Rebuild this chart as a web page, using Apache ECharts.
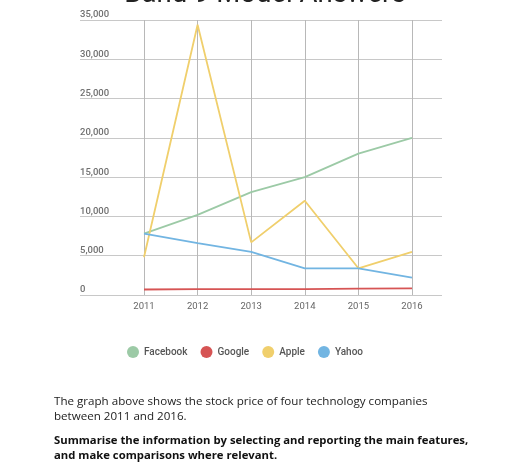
<!DOCTYPE html>
<html><head><meta charset="utf-8">
<script src="https://cdn.jsdelivr.net/npm/echarts@6/dist/echarts.min.js"></script>
<style>html,body{margin:0;padding:0;background:#fff;}#c{width:512px;height:468px;}</style>
</head><body><div id="c"></div>
<script>
const years = [2011, 2012, 2013, 2014, 2015, 2016];
const facebook = [7800, 10200, 13100, 15000, 18000, 20000];
const google = [700, 750, 750, 750, 800, 850];
const apple = [4800, 34400, 6700, 12000, 3400, 5500];
const yahoo = [7800, 6600, 5500, 3400, 3400, 2200];
const seriesNames = ['Facebook', 'Google', 'Apple', 'Yahoo'];
const colors = ['#9ccaa6', '#d65454', '#f0cf6c', '#72b5e2'];

const pair = arr => arr.map((v, i) => [years[i], v]);
const chart = echarts.init(document.getElementById('c'));
chart.setOption({
  animation: false,
  color: colors,
  grid: { left: 80, right: 70, top: 20, bottom: 173 },
  xAxis: {
    type: 'value', min: 2009.806, max: 2016.56,
    axisLine: { show: false },
    axisTick: { show: false, customValues: years },
    axisLabel: { customValues: years, color: '#666', fontSize: 9.5, fontFamily: 'Roboto', margin: 7, formatter: v => String(v) },
    splitLine: { show: true, lineStyle: { color: '#b8b8b8', width: 1 } }
  },
  yAxis: {
    type: 'value', min: 0, max: 35000, interval: 5000,
    axisLine: { show: false }, axisTick: { show: false },
    axisLabel: { color: '#707070', fontSize: 9.5, fontFamily: 'Roboto', fontWeight: 500, align: 'left', verticalAlign: 'bottom', margin: 0,
      formatter: v => v.toLocaleString('en-US') },
    splitLine: { lineStyle: { color: '#c8c8c8', width: 1 } }
  },
  legend: {
    data: seriesNames, top: 341, left: 122, itemGap: 13, itemWidth: 12, itemHeight: 12, icon: 'circle',
    textStyle: { color: '#555', fontSize: 10, fontFamily: 'Roboto', fontWeight: 500 }
  },
  graphic: [
    { type: 'text', x: 265, y: 9, z: 100, style: { text: 'Band 9 Model Answers', font: '27.5px Roboto', fill: '#222', align: 'center', verticalAlign: 'bottom' } },
    { type: 'text', left: 54, top: 394, style: { text: 'The graph above shows the stock price of four technology companies\nbetween 2011 and 2016.', font: '11.6px "Open Sans"', fill: '#222', lineHeight: 15 } },
    { type: 'text', left: 54, top: 433, style: { text: 'Summarise the information by selecting and reporting the main features,\nand make comparisons where relevant.', font: 'bold 11.3px "Open Sans"', fill: '#111', lineHeight: 15 } }
  ],
  series: [
    { name: 'Facebook', type: 'line', data: pair(facebook), symbol: 'none', lineStyle: { width: 1.8 } },
    { name: 'Google', type: 'line', data: pair(google), symbol: 'none', lineStyle: { width: 1.8 } },
    { name: 'Apple', type: 'line', data: pair(apple), symbol: 'none', lineStyle: { width: 1.8 } },
    { name: 'Yahoo', type: 'line', data: pair(yahoo), symbol: 'none', lineStyle: { width: 1.8 } }
  ]
});
</script></body></html>
